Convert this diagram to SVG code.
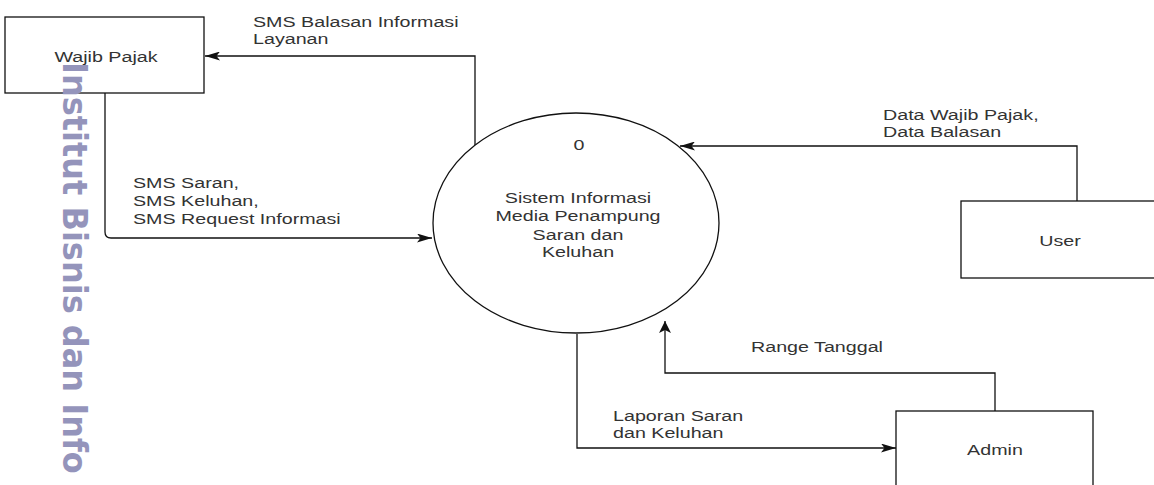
<svg xmlns="http://www.w3.org/2000/svg" width="1154" height="485" viewBox="0 0 1154 485">
<defs>
<style>
.box{fill:#fff;stroke:#111;stroke-width:1.3}
.proc{fill:#fff;stroke:#111;stroke-width:1.3}
.edge{fill:none;stroke:#111;stroke-width:1.3}
.t{font-family:"Liberation Sans",Arial,sans-serif;font-size:15.5px;fill:#333}
.c{text-anchor:middle}
.wm{font-family:"DejaVu Sans",Verdana,sans-serif;font-weight:bold;font-size:32px;fill:#9494bb}
</style>
<marker id="ah" viewBox="0 0 15 9" refX="15" refY="4.5" markerWidth="15" markerHeight="9" markerUnits="userSpaceOnUse" orient="auto">
<path d="M0,0 L15,4.5 L0,9 L3.5,4.5 Z" fill="#111"/>
</marker>
<marker id="av" viewBox="0 0 12 12" refX="12" refY="6" markerWidth="12" markerHeight="12" markerUnits="userSpaceOnUse" orient="auto">
<path d="M0,0 L12,6 L0,12 L3,6 Z" fill="#111"/>
</marker>
</defs>
<rect width="1154" height="485" fill="#fff"/>

<g id="connectors">
<path class="edge" d="M475,145 V56 H205" marker-end="url(#ah)"/>
<path class="edge" d="M105,93 V232 Q105,238 111,238 H432" marker-end="url(#ah)"/>
<path class="edge" d="M1077,201 V146 H680" marker-end="url(#ah)"/>
<path class="edge" d="M995,411 V373 H665 V321" marker-end="url(#av)"/>
<path class="edge" d="M577,334 V448 H896" marker-end="url(#ah)"/>
<text class="t" transform="translate(253 27) scale(1.27 1)"><tspan x="0" y="0">SMS Balasan Informasi</tspan><tspan x="0" y="17">Layanan</tspan></text>
<text class="t" transform="translate(133 188) scale(1.27 1)"><tspan x="0" y="0">SMS Saran,</tspan><tspan x="0" y="18">SMS Keluhan,</tspan><tspan x="0" y="36">SMS Request Informasi</tspan></text>
<text class="t" transform="translate(883 120) scale(1.27 1)"><tspan x="0" y="0">Data Wajib Pajak,</tspan><tspan x="0" y="17">Data Balasan</tspan></text>
<text class="t" transform="translate(751 352) scale(1.27 1)">Range Tanggal</text>
<text class="t" transform="translate(613 421) scale(1.27 1)"><tspan x="0" y="0">Laporan Saran</tspan><tspan x="0" y="17">dan Keluhan</tspan></text>
</g>

<g id="wajib-pajak">
<rect class="box" x="5" y="17" width="199" height="76"/>
<text class="t c" transform="translate(106 62) scale(1.27 1)">Wajib Pajak</text>
</g>

<g id="sistem">
<ellipse class="proc" cx="576" cy="223" rx="143" ry="110"/>
<text class="t c" transform="translate(579 150) scale(1.27 1)">0</text>
<text class="t c" transform="translate(578 203) scale(1.27 1)"><tspan x="0" y="0">Sistem Informasi</tspan><tspan x="0" y="18.5">Media Penampung</tspan><tspan x="0" y="37">Saran dan</tspan><tspan x="0" y="54">Keluhan</tspan></text>
</g>

<g id="user">
<rect class="box" x="961" y="201" width="198" height="77"/>
<text class="t c" transform="translate(1060 246) scale(1.27 1)">User</text>
</g>

<g id="admin">
<rect class="box" x="896" y="411" width="197" height="77"/>
<text class="t c" transform="translate(995 455) scale(1.27 1)">Admin</text>
</g>

<g id="watermark">
<text class="wm" transform="translate(63 62) rotate(90) scale(1 1.06)">Institut Bisnis dan Info</text>
</g>
</svg>
